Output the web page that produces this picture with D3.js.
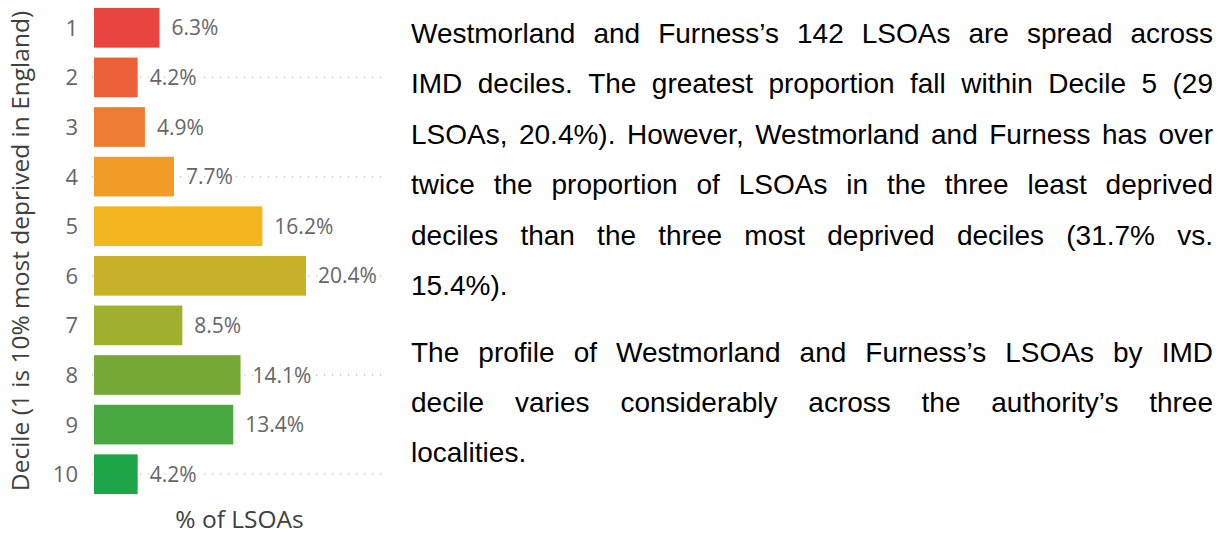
<!DOCTYPE html>
<html>
<head>
<meta charset="utf-8">
<script src="https://cdn.jsdelivr.net/npm/d3@7"></script>
<style>
  html, body { margin: 0; padding: 0; background: #ffffff; }
  svg { display: block; }
</style>
</head>
<body>
<svg id="chart" width="1225" height="535"></svg>
<script>
// ---- data ----
const deciles = ["1", "2", "3", "4", "5", "6", "7", "8", "9", "10"];
const pctLSOAs = [6.3, 4.2, 4.9, 7.7, 16.2, 20.4, 8.5, 14.1, 13.4, 4.2];
const barColors = ["#E84541", "#EC6137", "#EE7C31", "#F09C26", "#F4B61E",
                   "#C7B128", "#A0AF2E", "#76AA36", "#49A941", "#1DA548"];
const dottedRows = ["2", "4", "6", "8", "10"];
const xTitle = "% of LSOAs";
const yTitle = "Decile (1 is 10% most deprived in England)";
const paragraphs = [
  [
    "Westmorland and Furness’s 142 LSOAs are spread across",
    "IMD deciles. The greatest proportion fall within Decile 5 (29",
    "LSOAs, 20.4%). However, Westmorland and Furness has over",
    "twice the proportion of LSOAs in the three least deprived",
    "deciles than the three most deprived deciles (31.7% vs.",
    "15.4%)."
  ],
  [
    "The profile of Westmorland and Furness’s LSOAs by IMD",
    "decile varies considerably across the authority’s three",
    "localities."
  ]
];

// ---- chart ----
const svg = d3.select("#chart");
const uiFont = "'Open Sans', 'Noto Sans', sans-serif";

const x = d3.scaleLinear().domain([0, 28]).range([94, 385]);
const y = d3.scaleBand().domain(deciles).range([3, 499])
  .paddingInner(0.2).paddingOuter(0.1);

const rows = deciles.map((d, i) => ({ decile: d, value: pctLSOAs[i], color: barColors[i] }));

// dotted row guides
svg.append("g").selectAll("line")
  .data(rows.filter(r => dottedRows.includes(r.decile)))
  .join("line")
  .attr("x1", x(0) - 2).attr("x2", x.range()[1])
  .attr("y1", d => y(d.decile) + y.bandwidth() / 2)
  .attr("y2", d => y(d.decile) + y.bandwidth() / 2)
  .attr("stroke", "#c4c4c4")
  .attr("stroke-width", 1.3)
  .attr("stroke-dasharray", "1.3,6.7");

// bars
svg.append("g").selectAll("rect")
  .data(rows)
  .join("rect")
  .attr("x", x(0))
  .attr("y", d => y(d.decile))
  .attr("width", d => x(d.value) - x(0))
  .attr("height", y.bandwidth())
  .attr("fill", d => d.color);

// data labels
svg.append("g").selectAll("text")
  .data(rows)
  .join("text")
  .attr("x", d => x(d.value) + 12)
  .attr("y", d => y(d.decile) + y.bandwidth() / 2 + 7.5)
  .attr("font-family", uiFont)
  .attr("font-size", 21)
  .attr("fill", "#666666")
  .attr("stroke", "#ffffff")
  .attr("stroke-width", 5)
  .attr("paint-order", "stroke")
  .text(d => d.value.toFixed(1) + "%");

// y axis (ticks only)
const yAxis = d3.axisLeft(y).tickSize(0).tickPadding(0);
const yg = svg.append("g").attr("transform", "translate(78,0)").call(yAxis);
yg.select(".domain").remove();
yg.selectAll("text")
  .attr("font-family", uiFont)
  .attr("font-size", 22)
  .attr("fill", "#666666")
  .attr("dy", "0.36em");

// axis titles
svg.append("text")
  .attr("x", (x(0) + x.range()[1]) / 2)
  .attr("y", 528)
  .attr("text-anchor", "middle")
  .attr("font-family", uiFont)
  .attr("font-size", 24.5)
  .attr("fill", "#404040")
  .text(xTitle);

svg.append("text")
  .attr("transform", "translate(29," + 251 + ") rotate(-90)")
  .attr("text-anchor", "middle")
  .attr("font-family", uiFont)
  .attr("font-size", 24.5)
  .attr("fill", "#404040")
  .text(yTitle);

// ---- justified body text ----
const textLeft = 411, textRight = 1213;
const lineGap = 50.4, paraGap = 66.5;
const bodyFont = "'Liberation Sans', Arial, sans-serif";
const bodySize = 28;
let baseline = 43;
const tg = svg.append("g");
paragraphs.forEach((para, pi) => {
  para.forEach((line, li) => {
    const words = line.split(" ");
    const t = tg.append("text")
      .attr("y", baseline)
      .attr("font-family", bodyFont)
      .attr("font-size", bodySize)
      .attr("fill", "#000000");
    const spans = words.map(w => t.append("tspan").text(w));
    const widths = spans.map(s => s.node().getComputedTextLength());
    const isLast = li === para.length - 1;
    const total = d3.sum(widths);
    const spaceW = bodySize * 0.278;
    const gap = (isLast || words.length < 2) ? spaceW : (textRight - textLeft - total) / (words.length - 1);
    let cx = textLeft;
    spans.forEach((s, i) => {
      s.attr("x", cx);
      cx += widths[i] + gap;
    });
    baseline += lineGap;
  });
  baseline += paraGap - lineGap;
});
</script>
</body>
</html>
